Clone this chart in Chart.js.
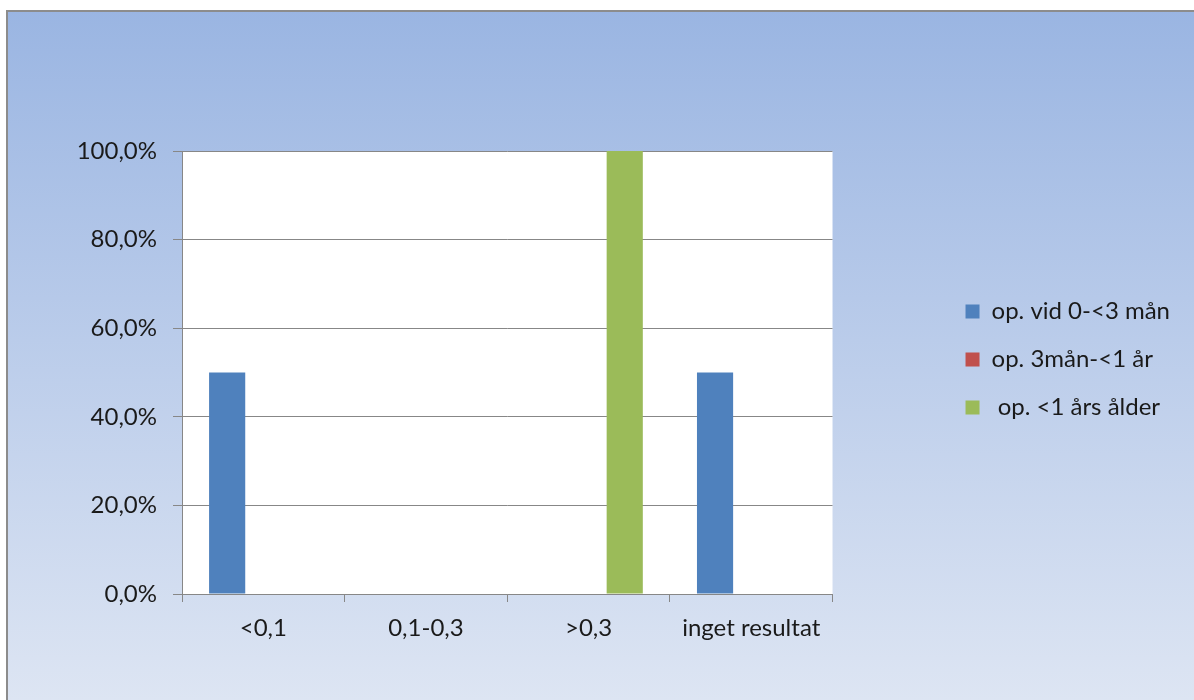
<!DOCTYPE html>
<html>
<head>
<meta charset="utf-8">
<script src="https://cdn.jsdelivr.net/npm/chart.js@4.4.1/dist/chart.umd.min.js"></script>
<style>
html, body { margin: 0; padding: 0; background: #fff; }
</style>
</head>
<body>
<canvas id="chart" width="1194" height="700"></canvas>
<script>
const categories = ["<0,1", "0,1-0,3", ">0,3", "inget resultat"];
const series_names = ["op. vid 0-<3 mån", "op. 3mån-<1 år", " op. <1 års ålder"];
const under_3m = [50, 0, 0, 50];
const from_3m = [0, 0, 0, 0];
const under_1y = [0, 0, 100, 0];
const y_max = 100;
const y_step = 20;

const colors = ["#4f81bd", "#c0504d", "#9bbb59"];
const grid_color = "#878787";
const text_color = "#1a1a1a";
const font = {family: "Lato", size: 24};
const legend_pad = 24, legend_box = 14;

// gradient frame + white plot area, drawn before anything else
const backdrop = {
    id: "backdrop",
    beforeDraw(chart) {
        const {ctx, width, height, chartArea: a} = chart;
        ctx.save();
        ctx.fillStyle = "#fff";
        ctx.fillRect(0, 0, width, height);
        const g = ctx.createLinearGradient(0, 10, 0, height);
        g.addColorStop(0, "#9ab5e2");
        g.addColorStop(1, "#dde5f3");
        ctx.fillStyle = g;
        ctx.fillRect(6, 10, width - 6, height - 10);
        ctx.strokeStyle = "#8c8c8c";
        ctx.lineWidth = 2;
        ctx.beginPath();
        ctx.moveTo(7, height);
        ctx.lineTo(7, 11);
        ctx.lineTo(width, 11);
        ctx.stroke();
        ctx.fillStyle = "#fff";
        ctx.fillRect(a.left, a.top, a.right - a.left, a.bottom - a.top);
        ctx.restore();
    }
};

function pct(v) {
    return v.toFixed(1).replace(".", ",") + "%";
}

// the legend clips to its own box, so work out how wide it will be
function legend_width() {
    const c = document.createElement("canvas").getContext("2d");
    c.font = font.size + "px " + font.family;
    const w = Math.max(...series_names.map(t => c.measureText(t).width));
    return legend_pad + legend_box + font.size / 2 + w + 10;
}

const datasets = [under_3m, from_3m, under_1y].map((data, i) => ({
    label: series_names[i],
    data,
    backgroundColor: colors[i],
    borderWidth: 0,
    categoryPercentage: 0.667,
    barPercentage: 1
}));

// invisible spacer axes, only there to push the plot area into place
// (display false so they don't count against the legend's max width)
const spacer = (position, size) => ({
    type: "linear",
    position,
    display: false,
    afterFit(s) {
        if (position === "top") s.height = size;
        else s.width = size;
    }
});

const right_pad = Math.max(0, Math.floor(1194 - 941 - legend_width()));

new Chart(document.querySelector("#chart"), {
    type: "bar",
    data: {labels: categories, datasets},
    plugins: [backdrop],
    options: {
        responsive: false,
        animation: false,
        layout: {padding: {left: 6, top: 19, right: right_pad, bottom: 0}},
        plugins: {
            tooltip: {enabled: false},
            legend: {
                position: "right",
                labels: {
                    color: text_color,
                    font,
                    boxWidth: legend_box,
                    boxHeight: legend_box,
                    padding: legend_pad
                }
            }
        },
        scales: {
            x: {
                grid: {
                    display: true,
                    drawOnChartArea: false,
                    offset: true,
                    color: grid_color,
                    tickLength: 8
                },
                border: {color: grid_color, width: 1},
                ticks: {color: text_color, font, padding: 12, maxRotation: 0},
                afterFit(s) { s.height = 106; }
            },
            y: {
                min: 0,
                max: y_max,
                ticks: {
                    stepSize: y_step,
                    color: text_color,
                    font,
                    padding: 16,
                    callback: v => pct(v)
                },
                grid: {color: grid_color, tickLength: 9},
                border: {color: grid_color, width: 1},
                afterFit(s) { s.width = 176; }
            },
            gapTop: spacer("top", 132),
            gapRight: spacer("right", 109)
        }
    }
});
</script>
</body>
</html>
